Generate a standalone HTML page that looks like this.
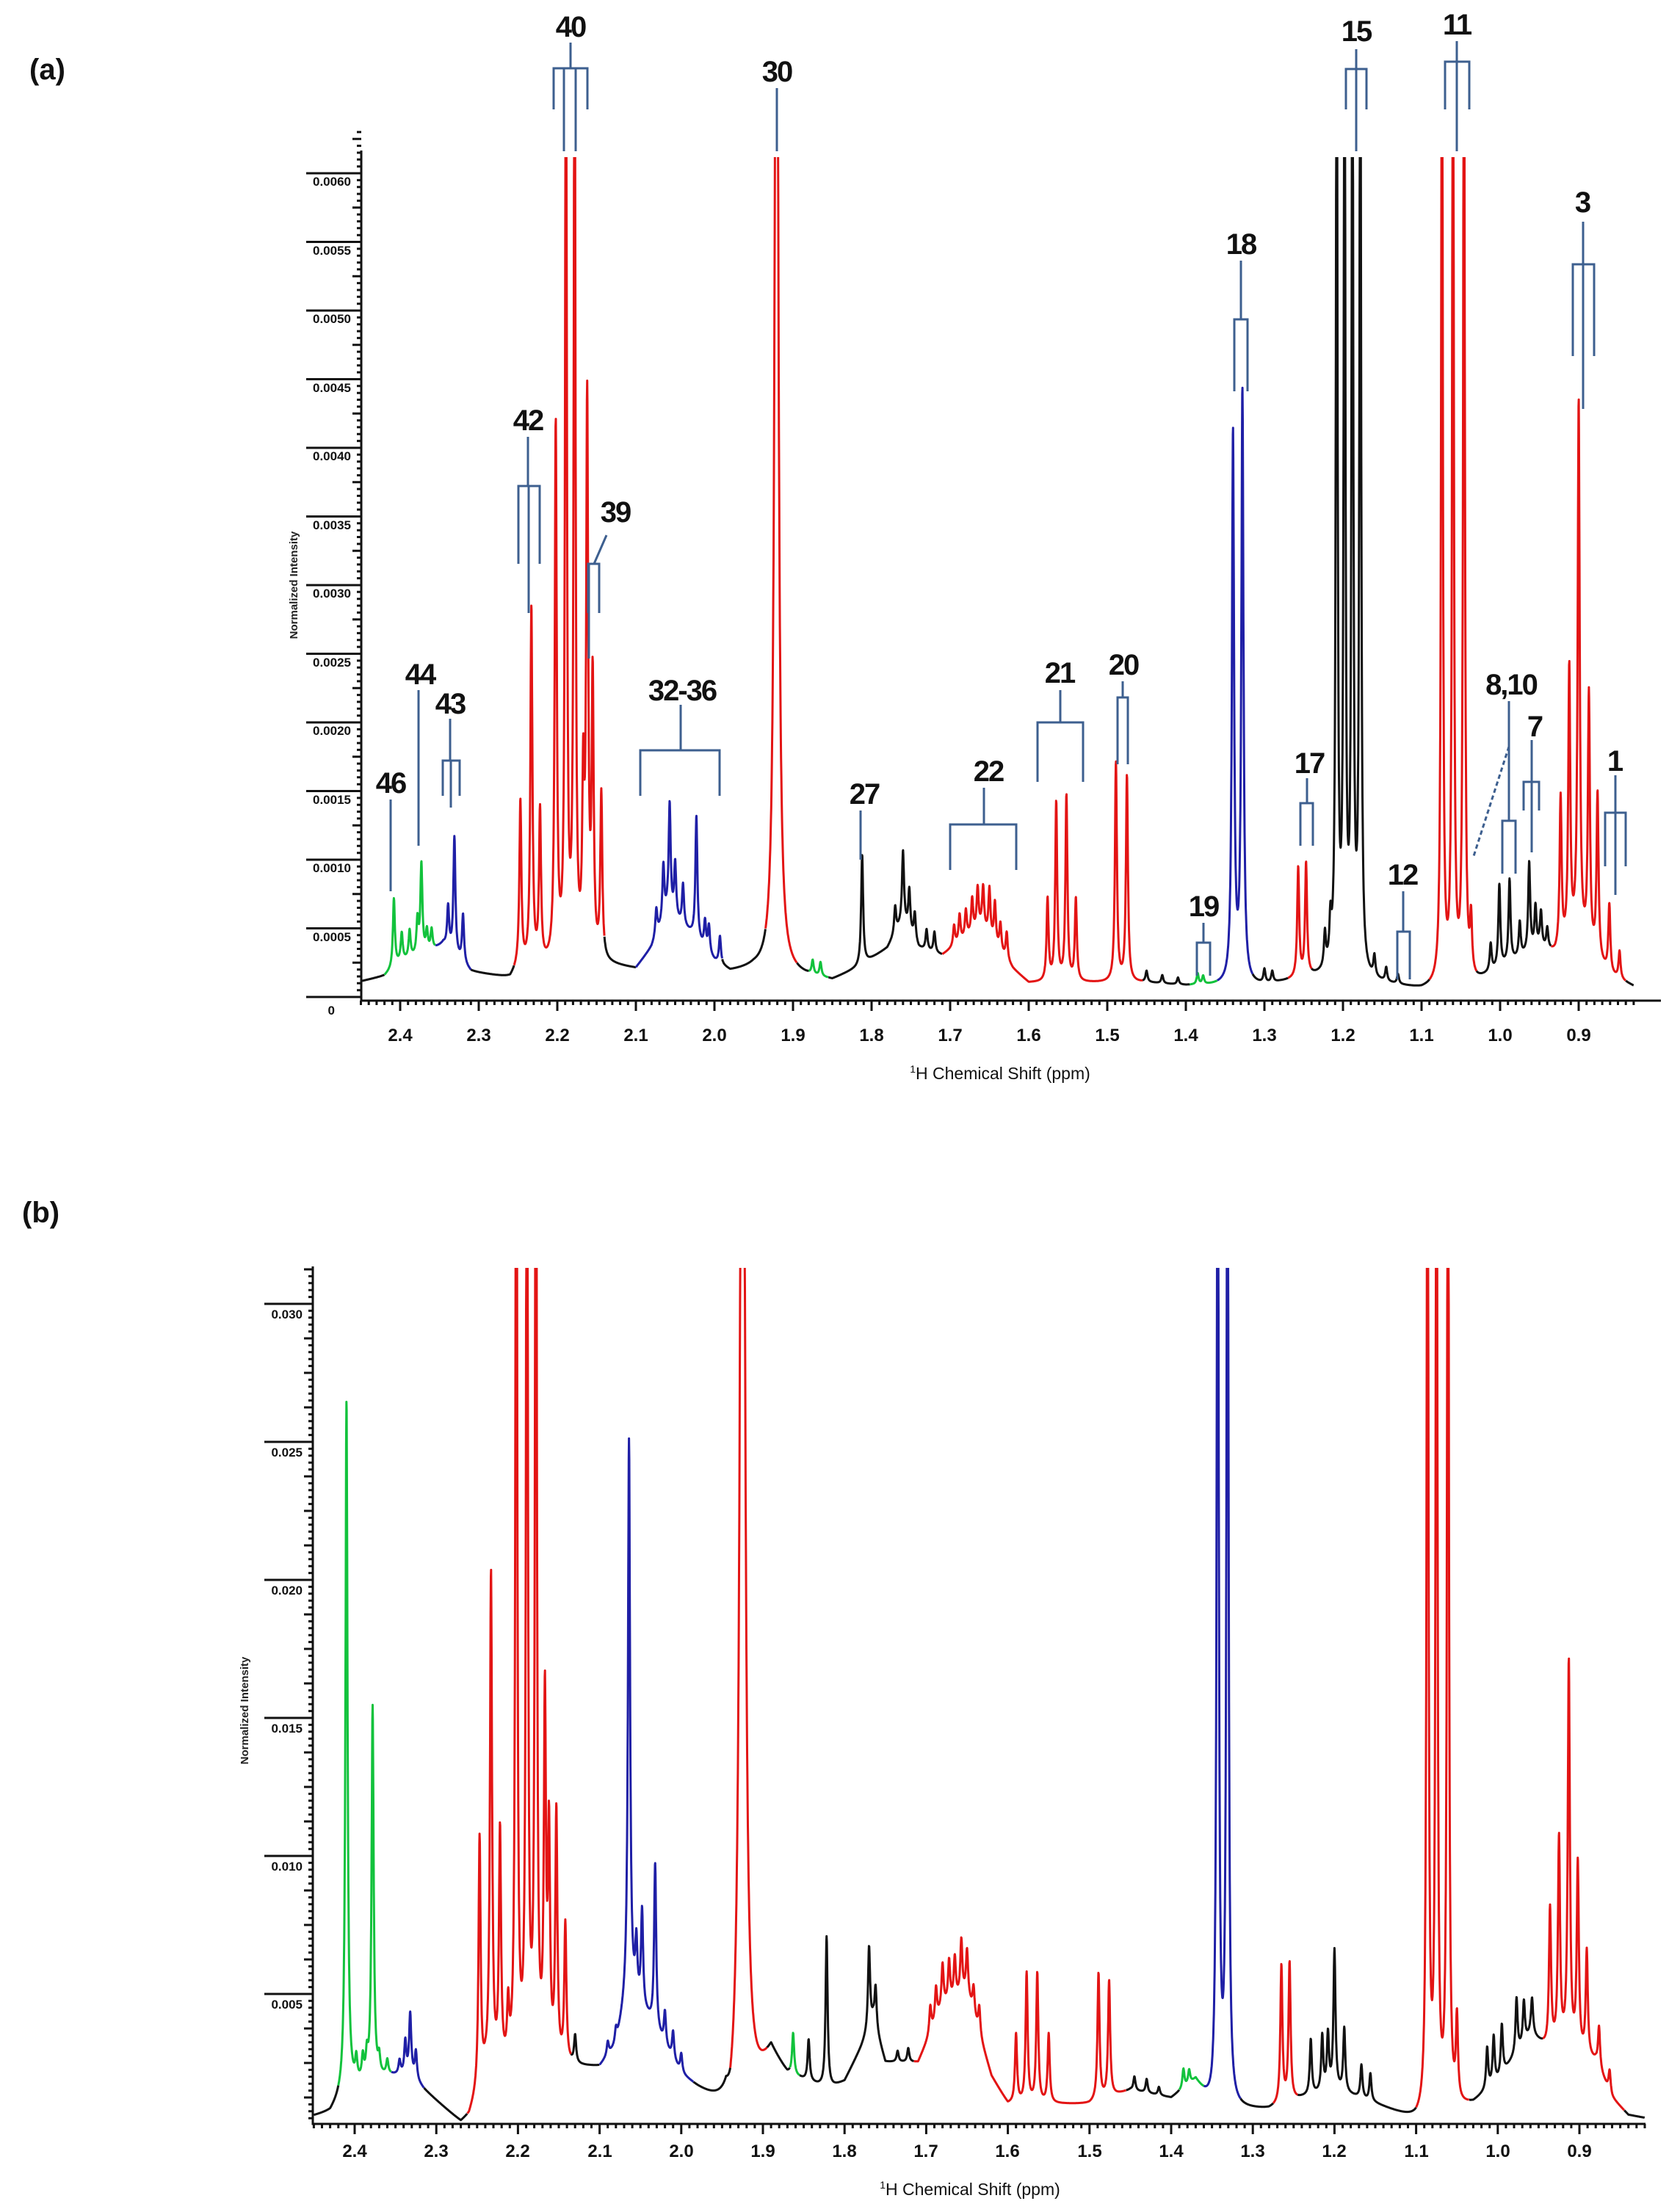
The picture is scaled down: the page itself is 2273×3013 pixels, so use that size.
<!DOCTYPE html>
<html><head><meta charset="utf-8"><style>
html,body{margin:0;padding:0;background:#fff;}
svg{display:block;}
text{font-family:"Liberation Sans",sans-serif;}
.lbl{font-weight:bold;font-size:40px;fill:#111;letter-spacing:-2px;}
.tk{font-weight:bold;font-size:17px;fill:#111;}
.xt{font-weight:bold;font-size:24px;fill:#111;}
.ttl{font-size:23px;fill:#111;}
.br{stroke:#3d5f8f;stroke-width:3;fill:none;}
</style></head><body>
<svg id="s" width="2273" height="3013" viewBox="0 0 2273 3013" xmlns="http://www.w3.org/2000/svg">
<defs>
<clipPath id="ca"><rect x="492" y="214" width="1780" height="1150"/></clipPath>
<clipPath id="cb"><rect x="426" y="1727" width="1820" height="1170"/></clipPath>
</defs>
<text x="40" y="108" class="lbl" style="letter-spacing:0">(a)</text>
<text x="30" y="1665" class="lbl" style="letter-spacing:0">(b)</text>
<g id="ga" clip-path="url(#ca)"></g>
<g id="gb" clip-path="url(#cb)"></g>
<g id="axes" stroke="#111" stroke-width="3" fill="none"></g>
<g class="tk" text-anchor="end">
<text x="456" y="1382">0</text>
<text x="478" y="1282">0.0005</text><text x="478" y="1188">0.0010</text><text x="478" y="1095">0.0015</text>
<text x="478" y="1001">0.0020</text><text x="478" y="908">0.0025</text><text x="478" y="814">0.0030</text>
<text x="478" y="721">0.0035</text><text x="478" y="627">0.0040</text><text x="478" y="534">0.0045</text>
<text x="478" y="440">0.0050</text><text x="478" y="347">0.0055</text><text x="478" y="253">0.0060</text>
</g>
<g class="tk" text-anchor="end">
<text x="412" y="2736">0.005</text><text x="412" y="2548">0.010</text><text x="412" y="2360">0.015</text>
<text x="412" y="2172">0.020</text><text x="412" y="1984">0.025</text><text x="412" y="1796">0.030</text>
</g>
<g class="xt" text-anchor="middle">
<text x="545" y="1418">2.4</text><text x="652" y="1418">2.3</text><text x="759" y="1418">2.2</text><text x="866" y="1418">2.1</text>
<text x="973" y="1418">2.0</text><text x="1080" y="1418">1.9</text><text x="1187" y="1418">1.8</text><text x="1294" y="1418">1.7</text>
<text x="1401" y="1418">1.6</text><text x="1508" y="1418">1.5</text><text x="1615" y="1418">1.4</text><text x="1722" y="1418">1.3</text>
<text x="1829" y="1418">1.2</text><text x="1936" y="1418">1.1</text><text x="2043" y="1418">1.0</text><text x="2150" y="1418">0.9</text>
</g>
<g class="xt" text-anchor="middle">
<text x="483" y="2938">2.4</text><text x="594" y="2938">2.3</text><text x="705" y="2938">2.2</text><text x="817" y="2938">2.1</text>
<text x="928" y="2938">2.0</text><text x="1039" y="2938">1.9</text><text x="1150" y="2938">1.8</text><text x="1261" y="2938">1.7</text>
<text x="1372" y="2938">1.6</text><text x="1484" y="2938">1.5</text><text x="1595" y="2938">1.4</text><text x="1706" y="2938">1.3</text>
<text x="1817" y="2938">1.2</text><text x="1929" y="2938">1.1</text><text x="2040" y="2938">1.0</text><text x="2151" y="2938">0.9</text>
</g>
<text x="1362" y="1470" class="ttl" text-anchor="middle"><tspan font-size="14" dy="-9">1</tspan><tspan dy="9">H Chemical Shift (ppm)</tspan></text>
<text x="1321" y="2990" class="ttl" text-anchor="middle"><tspan font-size="14" dy="-9">1</tspan><tspan dy="9">H Chemical Shift (ppm)</tspan></text>
<text transform="translate(405,797) rotate(-90)" text-anchor="middle" style="font-size:15px;font-weight:bold;fill:#222">Normalized Intensity</text>
<text transform="translate(338,2330) rotate(-90)" text-anchor="middle" style="font-size:15px;font-weight:bold;fill:#222">Normalized Intensity</text>

<g class="lbl" text-anchor="middle">
<text x="532" y="1080">46</text><text x="572" y="932">44</text><text x="613" y="972">43</text>
<text x="719" y="586">42</text><text x="777" y="50">40</text><text x="838" y="711">39</text>
<text x="929" y="954">32-36</text><text x="1058" y="111">30</text><text x="1177" y="1095">27</text>
<text x="1346" y="1064">22</text><text x="1443" y="930">21</text><text x="1530" y="919">20</text>
<text x="1639" y="1248">19</text><text x="1690" y="346">18</text><text x="1783" y="1053">17</text>
<text x="1847" y="56">15</text><text x="1910" y="1205">12</text><text x="1984" y="47">11</text>
<text x="2058" y="946">8,10</text><text x="2090" y="1003">7</text><text x="2155" y="289">3</text><text x="2199" y="1050">1</text>
</g>
<g class="br">
<path d="M532 1089V1214"/>
<path d="M570 940V1152"/>
<path d="M613 979V1036M603 1084V1036H626V1084M614 1036V1100"/>
<path d="M719 595V662M706 768V662H735V768M720 662V835"/>
<path d="M777 58V93M754 149V93H800V149M768 93V206M784 93V206"/>
<path d="M826 729L809 768M801 835V768H816V835M802 768V897"/>
<path d="M927 960V1022M872 1084V1022H980V1084"/>
<path d="M1058 120V206"/>
<path d="M1172 1104V1171"/>
<path d="M1340 1073V1123M1294 1185V1123H1384V1185"/>
<path d="M1444 940V984M1413 1065V984H1475V1065"/>
<path d="M1529 928V950M1522 1041V950H1536V1041"/>
<path d="M1639 1257V1284M1630 1329V1284H1648V1329"/>
<path d="M1690 355V435M1681 533V435H1699V533"/>
<path d="M1780 1060V1094M1771 1152V1094H1788V1152"/>
<path d="M1847 67V94M1833 149V94H1861V149M1847 94V206"/>
<path d="M1911 1214V1269M1903 1334V1269H1920V1334"/>
<path d="M1984 56V84M1968 149V84H2001V149M1984 84V206"/>
<path d="M2055 955V1118M2046 1190V1118H2064V1190"/>
<path d="M2055 1017L2007 1166" stroke-dasharray="6 4"/>
<path d="M2086 1008V1065M2075 1104V1065H2096V1104M2086 1065V1161"/>
<path d="M2156 302V360M2142 485V360H2171V485M2156 360V557"/>
<path d="M2200 1056V1107M2186 1180V1107H2214V1180M2200 1107V1219"/>
</g>
</svg>
<script>
(function(){
var NS="http://www.w3.org/2000/svg";
var K="#111",G="#12c23c",B="#1f1fa6",R="#e31414";
function interp(b,p){for(var i=0;i<b.length-1;i++){var a=b[i],c=b[i+1];if(p<=a[0]&&p>=c[0]){var t=(a[0]-p)/(a[0]-c[0]);return a[1]+t*(c[1]-a[1]);}}return b[b.length-1][1];}
function val(p,base,pk){var v=interp(base,p);for(var i=0;i<pk.length;i++){var w=pk[i][2]||0.0015;var d=(p-pk[i][0])/w;v+=pk[i][1]/(1+d*d);}return v;}
function draw(gid,cfg){
 var g=document.getElementById(gid);
 cfg.segs.forEach(function(s){
  var d="";var first=true;
  for(var p=s[0];p>=s[1]-1e-9;p-=0.0003){
   var x=cfg.x0+(cfg.p0-p)*cfg.sx;var y=cfg.y0-val(p,cfg.base,cfg.pk)*cfg.sy;
   if(y<cfg.ymin)y=cfg.ymin;
   d+=(first?"M":"L")+x.toFixed(1)+" "+y.toFixed(1);first=false;}
  var e=document.createElementNS(NS,"path");e.setAttribute("d",d);e.setAttribute("stroke",s[2]);
  e.setAttribute("stroke-width","3");e.setAttribute("fill","none");e.setAttribute("stroke-linejoin","round");
  g.appendChild(e);});
}
var H=[80,0.0012];
draw("ga",{x0:545,p0:2.4,sx:1070,y0:1358,sy:18.7,ymin:200,
 base:[[2.46,1.0],[2.42,1.5],[2.40,2.5],[2.36,3.3],[2.345,3.8],[2.31,1.8],[2.26,1.3],[2.25,2],[2.14,2.3],[2.10,2.0],[2.08,3.5],[2.06,6],[2.03,4.5],[2.0,2.5],[1.98,1.8],[1.95,2.0],[1.89,1.5],[1.85,1.2],[1.82,2],[1.78,3.5],[1.76,5.5],[1.74,3.5],[1.71,3],[1.66,5],[1.62,2],[1.60,1],[1.45,1],[1.40,0.8],[1.30,0.8],[1.28,1],[1.22,1.5],[1.10,0.5],[1.03,1],[1.0,2],[0.95,3.5],[0.93,3],[0.9,4],[0.86,1.5],[0.82,0.5]],
 pk:[[2.408,5],[2.398,2],[2.388,2],[2.378,2.5],[2.373,6.5],[2.366,1.5],[2.36,1.5],
 [2.339,3],[2.331,8.5],[2.32,3.5],
 [2.247,12],[2.233,26],[2.222,11],[2.202,39],[2.189,80,0.0012],[2.178,80,0.0012],[2.167,12],[2.162,40],[2.155,20],[2.144,12],
 [2.074,2],[2.065,4],[2.057,8],[2.05,4],[2.04,3],[2.023,9],[2.012,2],[2.007,2],[1.993,2],
 [1.921,100,0.0025],[1.875,1],[1.865,1],
 [1.812,8],[1.76,5],[1.752,3],[1.745,2],[1.77,2],[1.73,1.5],[1.72,1.5],
 [1.695,1.5],[1.688,2],[1.68,2],[1.672,2.5],[1.665,3],[1.658,3],[1.65,3.5],[1.643,3],[1.636,2],[1.628,2],
 [1.576,6],[1.565,13],[1.552,13.5],[1.54,6],[1.489,16],[1.475,15],
 [1.45,0.8],[1.43,0.6],[1.41,0.5],[1.385,0.8],[1.378,0.6],
 [1.34,40,0.0016],[1.328,43,0.0016],[1.30,1],[1.29,0.8],
 [1.257,8],[1.247,8.2],
 [1.223,2.5],[1.216,3],[1.208,80,0.0012],[1.198,80,0.0012],[1.188,80,0.0012],[1.178,80,0.0012],[1.16,1.5],[1.145,1],[1.13,0.7],
 [1.074,80,0.0012],[1.06,80,0.0012],[1.046,80,0.0012],[1.037,4],
 [1.012,2],[1.001,6],[0.988,6],[0.975,2.5],[0.963,6.5],[0.955,3],[0.948,2.5],[0.94,1.5],
 [0.923,11],[0.912,20],[0.9,39],[0.887,18.5],[0.876,12],[0.861,5],[0.848,2]],
 segs:[[2.449,2.42,K],[2.42,2.355,G],[2.355,2.31,B],[2.31,2.255,K],[2.255,2.14,R],[2.14,2.10,K],[2.10,1.99,B],[1.99,1.935,K],[1.935,1.895,R],[1.895,1.88,K],[1.88,1.855,G],[1.855,1.71,K],[1.71,1.455,R],[1.455,1.395,K],[1.395,1.36,G],[1.36,1.315,B],[1.315,1.27,K],[1.27,1.24,R],[1.24,1.09,K],[1.09,1.03,R],[1.03,0.935,K],[0.935,0.84,R],[0.84,0.83,K]]});
draw("gb",{x0:483,p0:2.4,sx:1112,y0:2904,sy:37.6,ymin:1715,
 base:[[2.46,0.5],[2.43,0.7],[2.41,1.5],[2.36,2.0],[2.33,2.0],[2.315,1.5],[2.27,0.3],[2.26,0.5],[2.24,2],[2.14,2.3],[2.1,2.3],[2.08,3],[2.065,5],[2.04,4],[2.0,2],[1.98,1.5],[1.945,0.7],[1.94,0],[1.93,0],[1.89,2.8],[1.87,2.0],[1.85,1.8],[1.82,1.5],[1.8,1.8],[1.78,3],[1.765,4],[1.75,2.5],[1.71,2.5],[1.68,4.5],[1.65,5],[1.62,2],[1.6,1],[1.5,1.0],[1.45,1.5],[1.4,1.2],[1.37,1.8],[1.35,0.8],[1.28,0.8],[1.24,1.2],[1.2,1.5],[1.15,1],[1.1,0.4],[1.08,0.5],[1.03,1],[1.0,1.8],[0.96,3.5],[0.94,3],[0.92,3],[0.88,2.5],[0.86,1.2],[0.84,0.6],[0.82,0.5]],
 pk:[[2.41,25],[2.378,13.5],[2.398,0.8],[2.39,0.8],[2.385,0.8],[2.37,0.6],[2.36,0.5],
 [2.345,0.5],[2.338,1.2],[2.332,2.2],[2.325,1.0],
 [2.247,9],[2.233,18],[2.222,8.5],[2.212,2],[2.202,45,0.0012],[2.189,45,0.0012],[2.178,45,0.0012],[2.167,13],[2.162,8],[2.153,9],[2.142,5],[2.13,1],
 [2.09,0.5],[2.08,0.6],[2.064,20],[2.055,2],[2.048,3.5],[2.032,6],[2.02,1.2],[2.01,1],[2.0,0.7],
 [1.925,60,0.003],[1.863,1.5],[1.844,1.5],[1.822,5.5],[1.77,3],[1.762,1.5],[1.735,0.4],[1.722,0.5],
 [1.695,1],[1.688,1.2],[1.68,1.5],[1.672,1.5],[1.665,1.5],[1.657,2],[1.65,1.5],[1.642,1],[1.635,1],
 [1.59,2.5],[1.577,4.7],[1.564,4.7],[1.55,2.5],[1.489,4.6],[1.476,4.2],
 [1.445,0.5],[1.43,0.5],[1.415,0.3],[1.385,0.7],[1.378,0.5],
 [1.343,45,0.0013],[1.331,45,0.0013],[1.265,5],[1.255,5],
 [1.229,2],[1.215,2],[1.208,2],[1.2,5],[1.188,2.3],[1.167,1.2],[1.156,1],
 [1.086,45,0.0012],[1.075,45,0.0012],[1.061,45,0.0012],[1.05,3],
 [1.013,1.5],[1.005,1.7],[0.995,1.8],[0.977,2],[0.968,1.5],[0.958,1.3],
 [0.936,5],[0.925,7.5],[0.913,14],[0.902,6.8],[0.891,3.8],[0.876,1.5],[0.863,0.8]],
 segs:[[2.45,2.42,K],[2.42,2.355,G],[2.355,2.315,B],[2.315,2.262,K],[2.262,2.135,R],[2.135,2.1,K],[2.1,1.985,B],[1.985,1.94,K],[1.94,1.895,R],[1.895,1.867,K],[1.867,1.855,G],[1.855,1.715,K],[1.715,1.455,R],[1.455,1.39,K],[1.39,1.36,G],[1.36,1.315,B],[1.315,1.275,K],[1.275,1.245,R],[1.245,1.1,K],[1.1,1.035,R],[1.035,0.945,K],[0.945,0.845,R],[0.845,0.82,K]]});
var ax=document.getElementById("axes");var d="";
d+="M492 205V1363H2262";
for(var v=0;v<=0.0063;v+=0.00005){var y=1358-v*187000;var L=(Math.round(v/0.00005)%5==0)?12:6;d+="M492 "+y.toFixed(1)+"H"+(492-L);}
for(var k=0;k<=12;k++){var y=1358-k*93.5;d+="M417 "+y+"H492";}
for(var p=2.45;p>=0.83;p-=0.01){var x=545+(2.4-p)*1070;var m=Math.abs(Math.round(p*10)-p*10)<0.001;d+="M"+x.toFixed(1)+" 1363V"+(1363+(m?14:6));}
d+="M426 1725V2893H2241";
for(var v=0;v<=0.0315;v+=0.00025){var y=2904-v*37600;if(y>2893)continue;var L=(Math.round(v/0.00025)%5==0)?12:6;d+="M426 "+y.toFixed(1)+"H"+(426-L);}
for(var k=1;k<=6;k++){var y=2904-k*188;d+="M360 "+y+"H426";}
for(var p=2.45;p>=0.82;p-=0.01){var x=483+(2.4-p)*1112;if(x<426)continue;var m=Math.abs(Math.round(p*10)-p*10)<0.001;d+="M"+x.toFixed(1)+" 2893V"+(2893+(m?14:6));}
var e=document.createElementNS(NS,"path");e.setAttribute("d",d);ax.appendChild(e);
})();
</script>
</body></html>
